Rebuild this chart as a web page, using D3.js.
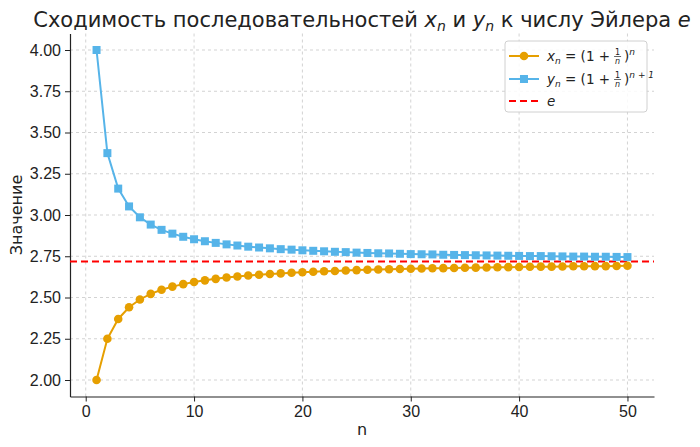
<!DOCTYPE html>
<html lang="ru">
  <head>
    <meta charset="UTF-8" />
    <title>Сходимость к e</title>
    <style>
      body { margin: 0; background: #fff; }
      svg { font-family: "DejaVu Sans", sans-serif; }
      .grid line { stroke: #c8c8c8; stroke-dasharray: 3,3; stroke-width: 0.8; }
      .axis path, .axis line { stroke: #222; }
      .axis text { fill: #222; font-size: 16px; }
    </style>
  </head>
  <body>
    <div class="chart"></div>
    <script src="https://d3js.org/d3.v7.min.js"></script>
    <script>
      // n = 1..50
      const nValues = d3.range(1, 51);

      // x_n = (1 + 1/n)^n
      const xSeries = [
        2.000, 2.250, 2.370, 2.441, 2.488, 2.522, 2.547, 2.566, 2.581, 2.594,
        2.604, 2.613, 2.621, 2.627, 2.633, 2.638, 2.642, 2.646, 2.650, 2.653,
        2.656, 2.659, 2.661, 2.664, 2.666, 2.668, 2.670, 2.671, 2.673, 2.674,
        2.676, 2.677, 2.678, 2.679, 2.680, 2.681, 2.682, 2.683, 2.684, 2.685,
        2.686, 2.687, 2.687, 2.688, 2.689, 2.689, 2.690, 2.690, 2.691, 2.692
      ];

      // y_n = (1 + 1/n)^(n+1)
      const ySeries = [
        4.000, 3.375, 3.160, 3.052, 2.986, 2.942, 2.910, 2.887, 2.868, 2.853,
        2.841, 2.831, 2.822, 2.815, 2.808, 2.803, 2.798, 2.793, 2.790, 2.786,
        2.783, 2.780, 2.777, 2.775, 2.772, 2.770, 2.768, 2.767, 2.765, 2.763,
        2.762, 2.761, 2.759, 2.758, 2.757, 2.756, 2.755, 2.754, 2.753, 2.752,
        2.751, 2.751, 2.750, 2.749, 2.748, 2.748, 2.747, 2.747, 2.746, 2.745
      ];

      const eValue = 2.71828;
      const xTicks = [0, 10, 20, 30, 40, 50];
      const yTicks = [2.0, 2.25, 2.5, 2.75, 3.0, 3.25, 3.5, 3.75, 4.0];

      const width = 700, height = 447;
      const margin = { top: 33.5, right: 46, bottom: 50.5, left: 70 };
      const orange = "#E69F00", blue = "#56B4E9";

      const svg = d3.select(".chart").append("svg")
        .attr("width", width).attr("height", height);

      const x = d3.scaleLinear().domain([-1.45, 52.45])
        .range([margin.left, width - margin.right]);
      const y = d3.scaleLinear().domain([1.9, 4.1])
        .range([height - margin.bottom, margin.top]);

      // сетка
      const grid = svg.append("g").attr("class", "grid");
      grid.selectAll(".gx").data(xTicks).enter().append("line")
        .attr("x1", d => x(d)).attr("x2", d => x(d))
        .attr("y1", y.range()[0]).attr("y2", y.range()[1]);
      grid.selectAll(".gy").data(yTicks).enter().append("line")
        .attr("x1", x.range()[0]).attr("x2", x.range()[1])
        .attr("y1", d => y(d)).attr("y2", d => y(d));

      // оси
      svg.append("g").attr("class", "axis")
        .attr("transform", `translate(0, ${height - margin.bottom})`)
        .call(d3.axisBottom(x).tickValues(xTicks).tickSize(5).tickPadding(4).tickSizeOuter(0))
        .call(g => g.select(".domain").attr("stroke-width", 1.2));
      svg.append("g").attr("class", "axis")
        .attr("transform", `translate(${margin.left}, 0)`)
        .call(d3.axisLeft(y).tickValues(yTicks).tickFormat(d3.format(".2f")).tickSize(5).tickPadding(4).tickSizeOuter(0))
        .call(g => g.select(".domain").attr("stroke-width", 1.2));

      // линия e
      svg.append("line")
        .attr("x1", x.range()[0]).attr("x2", x.range()[1])
        .attr("y1", y(eValue)).attr("y2", y(eValue))
        .attr("stroke", "red").attr("stroke-width", 2).attr("stroke-dasharray", "7,4");

      const line = d3.line();
      const xPts = nValues.map((n, i) => [x(n), y(xSeries[i])]);
      const yPts = nValues.map((n, i) => [x(n), y(ySeries[i])]);

      svg.append("path").attr("d", line(yPts))
        .attr("fill", "none").attr("stroke", blue).attr("stroke-width", 2);
      svg.append("g").selectAll("rect").data(yPts).enter().append("rect")
        .attr("x", d => d[0] - 4).attr("y", d => d[1] - 4)
        .attr("width", 8).attr("height", 8).attr("fill", blue);

      svg.append("path").attr("d", line(xPts))
        .attr("fill", "none").attr("stroke", orange).attr("stroke-width", 2);
      svg.append("g").selectAll("circle").data(xPts).enter().append("circle")
        .attr("cx", d => d[0]).attr("cy", d => d[1]).attr("r", 4.3).attr("fill", orange);

      // заголовок
      const title = svg.append("text")
        .attr("x", (x.range()[0] + x.range()[1]) / 2).attr("y", 27)
        .attr("text-anchor", "middle").attr("font-size", 21).attr("fill", "#222");
      title.append("tspan").text("Сходимость последовательностей ");
      title.append("tspan").attr("font-style", "italic").text("x");
      title.append("tspan").attr("font-style", "italic").attr("font-size", 14).attr("dy", 4).text("n");
      title.append("tspan").attr("dy", -4).text(" и ");
      title.append("tspan").attr("font-style", "italic").text("y");
      title.append("tspan").attr("font-style", "italic").attr("font-size", 14).attr("dy", 4).text("n");
      title.append("tspan").attr("dy", -4).text(" к числу Эйлера ");
      title.append("tspan").attr("font-style", "italic").text("e");

      // подписи осей
      svg.append("text")
        .attr("x", (x.range()[0] + x.range()[1]) / 2).attr("y", 435)
        .attr("text-anchor", "middle").attr("font-size", 16).attr("fill", "#222").text("n");
      svg.append("text")
        .attr("transform", `translate(22, ${(y.range()[0] + y.range()[1]) / 2}) rotate(-90)`)
        .attr("text-anchor", "middle").attr("font-size", 16).attr("fill", "#222").text("Значение");

      // легенда
      const lg = svg.append("g").attr("transform", "translate(505, 41)");
      lg.append("rect").attr("width", 142).attr("height", 71).attr("rx", 3)
        .attr("fill", "rgba(255,255,255,0.85)").attr("stroke", "#d0d0d0");

      function formula(g, ty, letter, power) {
        const t = g.append("text").attr("x", 42).attr("y", ty).attr("font-size", 13.5).attr("fill", "#222");
        t.append("tspan").attr("font-style", "italic").text(letter);
        t.append("tspan").attr("font-style", "italic").attr("font-size", 9).attr("dy", 3).text("n");
        t.append("tspan").attr("dy", -3).text(" = (1 +");
        const fx = t.node().getComputedTextLength() + 42 + 4;
        t.append("tspan").attr("dx", 14).text(")");
        t.append("tspan").attr("font-style", "italic").attr("font-size", 9).attr("dy", -6).text(power);
        g.append("text").attr("x", fx + 3.5).attr("y", ty - 6).attr("text-anchor", "middle")
          .attr("font-size", 8).attr("fill", "#222").text("1");
        g.append("line").attr("x1", fx).attr("x2", fx + 7).attr("y1", ty - 4.5).attr("y2", ty - 4.5)
          .attr("stroke", "#222").attr("stroke-width", 0.7);
        g.append("text").attr("x", fx + 3.5).attr("y", ty + 2.5).attr("text-anchor", "middle")
          .attr("font-size", 8).attr("font-style", "italic").attr("fill", "#222").text("n");
      }

      const rows = [
        { cy: 15, color: orange, kind: "circle" },
        { cy: 38, color: blue, kind: "square" },
        { cy: 60, color: "red", kind: "dash" }
      ];
      rows.forEach(r => {
        const ln = lg.append("line").attr("x1", 4).attr("x2", 34).attr("y1", r.cy).attr("y2", r.cy)
          .attr("stroke", r.color).attr("stroke-width", 2);
        if (r.kind === "dash") ln.attr("stroke-dasharray", "7,4");
        if (r.kind === "circle") lg.append("circle").attr("cx", 19).attr("cy", r.cy).attr("r", 4.3).attr("fill", r.color);
        if (r.kind === "square") lg.append("rect").attr("x", 15).attr("y", r.cy - 4).attr("width", 8).attr("height", 8).attr("fill", r.color);
      });
      formula(lg, 20, "x", "n");
      formula(lg, 43, "y", "n + 1");
      lg.append("text").attr("x", 42).attr("y", 65).attr("font-size", 13.5)
        .attr("font-style", "italic").attr("fill", "#222").text("e");
    </script>
  </body>
</html>
